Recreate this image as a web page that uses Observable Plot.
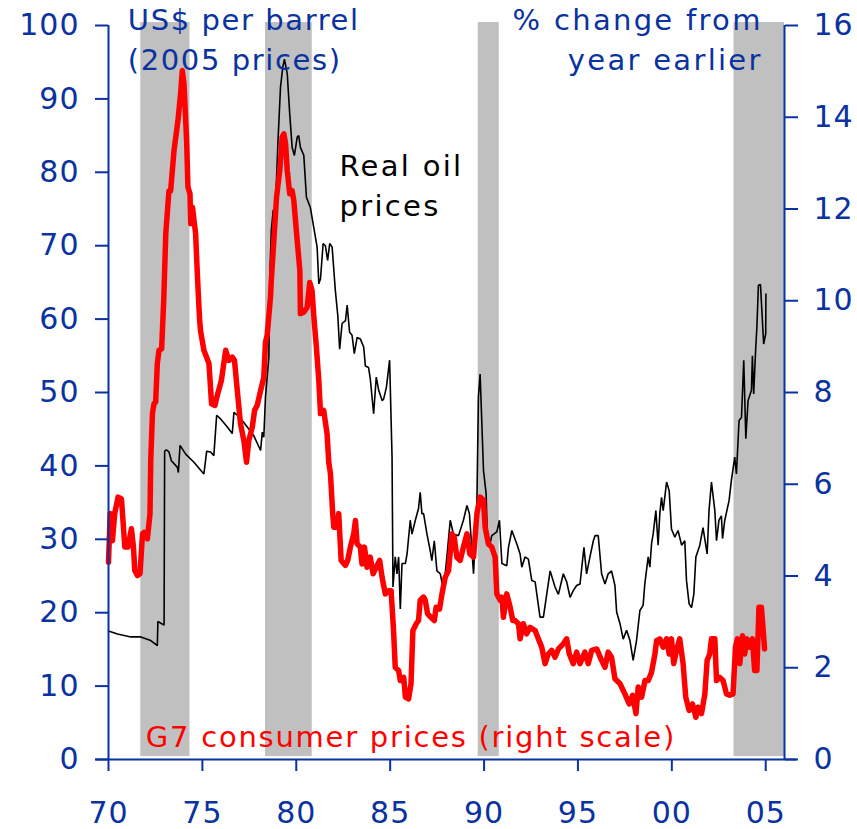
<!DOCTYPE html>
<html>
<head>
<meta charset="utf-8">
<script src="https://cdn.jsdelivr.net/npm/d3@7"></script>
<script src="https://cdn.jsdelivr.net/npm/@observablehq/plot@0.6"></script>
<style>
  html, body { margin: 0; padding: 0; background: #fff; }
  #chart svg { display: block; font-family: "DejaVu Sans", Verdana, sans-serif; }
  #chart svg text { letter-spacing: 1px; }
  #chart svg .note-a text { letter-spacing: 1.6px; }
  #chart svg .note-b text { letter-spacing: 2.3px; }
  #chart svg .note-c text { letter-spacing: 2.3px; }
  #chart svg .note-d text { letter-spacing: 1.75px; }
</style>
</head>
<body>
<div id="chart"></div>
<script>
// ---- Data ----
const oilYear = [
  1970.00,1970.48,1971.19,1971.72,1972.25,1972.51,1972.60,1972.63,1972.96,1972.99,
  1973.08,1973.22,1973.35,1973.67,1973.72,1973.81,1974.11,1974.55,1974.91,1975.08,
  1975.23,1975.44,1975.61,1975.76,1975.97,1976.33,1976.59,1976.68,1976.86,1977.12,
  1977.39,1977.74,1978.10,1978.19,1978.27,1978.36,1978.54,1978.59,1978.67,1978.77,
  1978.89,1979.02,1979.16,1979.28,1979.37,1979.52,1979.65,1979.78,1979.90,1980.05,
  1980.13,1980.22,1980.40,1980.54,1980.75,1980.93,1981.11,1981.20,1981.29,1981.43,
  1981.55,1981.67,1981.78,1981.91,1982.08,1982.21,1982.31,1982.44,1982.62,1982.71,
  1982.84,1982.97,1983.09,1983.24,1983.41,1983.59,1983.68,1983.85,1983.94,1984.12,
  1984.26,1984.39,1984.57,1984.65,1984.80,1984.97,1985.10,1985.15,1985.27,1985.36,
  1985.45,1985.54,1985.63,1985.81,1985.90,1986.07,1986.16,1986.34,1986.51,1986.60,
  1986.69,1986.78,1986.96,1987.13,1987.22,1987.35,1987.49,1987.67,1987.84,1988.02,
  1988.20,1988.37,1988.64,1988.90,1989.09,1989.22,1989.44,1989.62,1989.70,1989.79,
  1989.97,1990.11,1990.18,1990.32,1990.41,1990.68,1990.82,1990.95,1991.21,1991.30,
  1991.48,1991.74,1991.92,1992.01,1992.18,1992.36,1992.54,1992.72,1992.98,1993.16,
  1993.52,1993.78,1993.96,1994.22,1994.40,1994.58,1994.75,1994.93,1995.11,1995.32,
  1995.46,1995.64,1995.82,1995.91,1996.08,1996.26,1996.44,1996.61,1996.79,1996.97,
  1997.06,1997.24,1997.41,1997.59,1997.77,1997.94,1998.12,1998.30,1998.47,1998.56,
  1998.74,1998.83,1998.92,1999.01,1999.15,1999.27,1999.36,1999.45,1999.54,1999.72,
  1999.86,1999.98,2000.16,2000.33,2000.52,2000.69,2000.78,2000.92,2001.05,2001.17,
  2001.28,2001.49,2001.66,2001.88,2001.98,2002.11,2002.29,2002.38,2002.51,2002.64,
  2002.70,2002.82,2003.05,2003.17,2003.35,2003.44,2003.58,2003.71,2003.83,2003.94,
  2004.06,2004.24,2004.29,2004.36,2004.47,2004.53,2004.61,2004.72,2004.89,2005.00,
  2005.01
];
const oilPrice = [
  17.5,17.1,16.7,16.7,16.2,15.7,15.5,18.8,18.3,42.0,
  42.2,41.9,40.7,39.8,39.1,42.8,41.6,40.5,39.4,38.9,
  42.0,41.9,41.4,46.9,46.4,45.3,44.4,47.3,46.9,46.2,
  45.3,44.1,42.1,44.6,43.9,49.4,54.8,65.7,72.1,74.8,
  75.2,83.9,91.6,94.3,95.4,93.4,88.0,83.4,82.3,84.8,
  85.0,83.4,82.3,76.6,75.2,72.5,69.8,64.8,65.5,70.3,
  70.0,68.0,70.3,69.8,63.9,60.5,55.9,59.4,59.8,61.9,
  58.2,57.8,55.3,57.5,57.3,56.2,53.6,53.4,51.9,47.1,
  52.1,50.3,48.9,49.1,50.7,54.4,41.2,23.5,27.6,25.3,
  27.6,20.5,26.7,26.7,28.0,32.6,30.7,32.6,34.2,36.4,
  33.5,33.5,30.7,28.5,27.1,29.8,25.7,25.3,23.0,27.6,
  32.6,30.7,30.5,32.6,34.6,33.5,25.3,35.3,49.4,52.5,
  39.4,36.2,29.8,29.4,30.5,31.0,32.6,26.7,26.4,28.9,
  31.2,29.4,28.0,26.2,27.6,27.3,24.4,24.2,19.4,19.4,
  25.7,23.5,22.5,25.3,24.2,22.1,23.0,23.7,23.9,28.9,
  25.3,27.6,29.8,30.5,30.5,25.3,23.9,25.3,25.7,23.7,
  20.1,18.5,16.4,17.6,16.2,13.5,16.2,20.3,21.0,23.9,
  27.6,26.2,29.4,30.8,33.9,29.2,33.5,35.7,33.9,37.8,
  36.6,31.4,30.3,31.2,29.2,29.8,24.4,21.2,20.7,22.5,
  27.6,29.2,31.6,28.0,33.9,37.8,33.9,29.8,32.6,33.2,
  30.1,32.6,35.3,38.0,41.2,38.9,46.2,46.6,54.4,43.7,
  48.9,50.3,55.0,49.8,56.2,58.9,64.6,64.7,56.6,58.0,
  63.4
];

const cpiYear = [
  1970.00,1970.09,1970.21,1970.33,1970.51,1970.69,1970.87,1971.04,1971.22,1971.33,
  1971.40,1971.54,1971.68,1971.81,1971.89,1972.07,1972.21,1972.25,1972.34,1972.42,
  1972.51,1972.60,1972.69,1972.83,1972.94,1973.05,1973.22,1973.31,1973.49,1973.70,
  1973.84,1973.93,1974.02,1974.16,1974.23,1974.34,1974.38,1974.47,1974.64,1974.73,
  1974.80,1974.85,1974.90,1975.08,1975.35,1975.49,1975.67,1975.79,1976.01,1976.24,
  1976.41,1976.59,1976.71,1976.86,1977.03,1977.21,1977.35,1977.47,1977.66,1977.78,
  1977.92,1978.10,1978.27,1978.36,1978.45,1978.63,1978.67,1978.95,1979.12,1979.25,
  1979.34,1979.43,1979.52,1979.65,1979.78,1979.87,1980.05,1980.19,1980.22,1980.40,
  1980.58,1980.72,1980.84,1980.93,1981.07,1981.20,1981.29,1981.46,1981.64,1981.73,
  1981.82,1981.94,1982.00,1982.17,1982.26,1982.39,1982.62,1982.74,1982.88,1983.06,
  1983.15,1983.24,1983.41,1983.50,1983.63,1983.77,1983.94,1984.09,1984.26,1984.44,
  1984.57,1984.74,1984.92,1985.05,1985.18,1985.27,1985.45,1985.54,1985.72,1985.81,
  1985.98,1986.11,1986.21,1986.39,1986.51,1986.60,1986.78,1986.87,1986.99,1987.17,
  1987.35,1987.45,1987.63,1987.76,1987.93,1988.11,1988.29,1988.41,1988.55,1988.73,
  1988.90,1989.09,1989.24,1989.44,1989.62,1989.79,1989.97,1990.06,1990.23,1990.41,
  1990.59,1990.68,1990.86,1990.95,1991.03,1991.21,1991.39,1991.53,1991.65,1991.83,
  1991.92,1992.09,1992.27,1992.45,1992.72,1992.89,1993.07,1993.25,1993.42,1993.60,
  1993.78,1993.96,1994.22,1994.40,1994.54,1994.75,1994.93,1995.11,1995.37,1995.55,
  1995.73,1996.00,1996.26,1996.44,1996.61,1996.79,1996.97,1997.24,1997.50,1997.73,
  1997.91,1998.09,1998.21,1998.39,1998.57,1998.74,1998.92,1999.10,1999.19,1999.36,
  1999.54,1999.72,1999.86,1999.98,2000.10,2000.25,2000.42,2000.60,2000.74,2000.92,
  2001.10,2001.28,2001.40,2001.58,2001.76,2001.88,2002.02,2002.11,2002.29,2002.38,
  2002.55,2002.73,2002.91,2003.08,2003.26,2003.39,2003.49,2003.62,2003.76,2003.88,
  2004.00,2004.15,2004.29,2004.41,2004.53,2004.64,2004.77,2004.94
];
const cpiChange = [
  4.30,5.36,4.77,5.36,5.72,5.68,4.63,4.63,5.03,4.63,
  4.12,4.01,4.05,4.92,4.95,4.81,5.36,6.52,7.54,7.75,
  7.79,8.63,8.92,8.95,10.00,11.46,12.40,12.40,13.28,13.93,
  14.51,15.02,14.73,13.49,12.48,12.33,11.68,12.04,11.46,10.59,
  10.00,9.60,9.35,8.92,8.63,7.75,7.72,7.93,8.26,8.92,
  8.70,8.77,8.70,8.04,7.32,6.95,6.48,6.95,7.25,7.61,
  7.72,8.04,8.33,9.10,9.25,10.10,10.44,12.26,12.84,13.57,
  13.64,13.42,12.84,12.33,12.40,12.18,11.31,10.66,9.72,9.75,
  9.86,10.40,10.22,9.68,8.99,8.26,7.54,7.61,7.10,6.48,
  6.23,5.36,5.06,5.06,5.36,4.34,4.23,4.34,4.63,4.92,
  5.21,4.70,4.63,4.26,4.63,4.19,4.41,4.05,4.19,4.34,
  3.97,3.61,3.68,3.68,2.81,2.01,1.94,1.72,1.79,1.36,
  1.32,1.65,2.81,2.96,3.03,3.47,3.54,3.47,3.18,3.10,
  3.03,3.32,3.28,3.61,3.97,4.12,4.92,4.85,4.41,4.34,
  4.63,4.92,4.48,4.41,5.36,5.72,5.65,5.06,4.70,4.63,
  4.41,3.61,3.47,3.54,3.10,3.61,3.32,3.03,3.03,2.96,
  2.63,2.96,2.74,2.88,2.81,2.63,2.45,2.09,2.30,2.38,
  2.23,2.41,2.52,2.63,2.30,2.09,2.34,2.09,2.34,2.09,
  2.38,2.41,2.16,2.01,2.34,2.23,1.76,1.65,1.43,1.21,
  1.40,1.00,1.58,1.36,1.72,1.72,1.90,2.30,2.59,2.63,
  2.45,2.63,2.30,2.63,2.09,2.38,2.63,2.09,1.36,1.07,
  1.21,0.92,1.14,1.00,1.43,2.16,2.30,2.63,2.63,1.72,
  1.79,1.72,1.43,1.40,1.43,2.45,2.63,2.09,2.70,2.30,
  2.63,2.45,2.63,1.94,1.94,3.32,3.32,2.41
];

// shaded periods
const bandStart = [1971.72, 1978.36, 1989.69, 2003.31];
const bandEnd   = [1974.34, 1980.85, 1990.81, 2006.00];

// tick values
const xTicks = [1970, 1975, 1980, 1985, 1990, 1995, 2000, 2005];
const leftTicks = [0, 10, 20, 30, 40, 50, 60, 70, 80, 90, 100];
const rightTicks = [0, 2, 4, 6, 8, 10, 12, 14, 16];

// ---- Build tables ----
const oil = oilYear.map((t, i) => ({year: t, value: oilPrice[i]}));
const cpi = cpiYear.map((t, i) => ({year: t, value: cpiChange[i]}));
const bands = bandStart.map((s, i) => ({start: s, end: bandEnd[i]}));
const k = 100 / 16; // right scale -> left scale

const BLUE = "#0a32a0";
const FONT = "DejaVu Sans, Verdana, sans-serif";

const chart = Plot.plot({
  width: 857,
  height: 829,
  marginLeft: 108,
  marginRight: 73,
  marginTop: 25,
  marginBottom: 70,
  style: {fontFamily: FONT, background: "#fff", overflow: "visible"},
  x: {domain: [1970, 2006], axis: null},
  y: {domain: [0, 100], axis: null},
  marks: [
    Plot.rectY(bands, {x1: "start", x2: "end", y1: 0.4, y2: 100.4, fill: "#c0c0c0"}),
    Plot.line(oil, {x: "year", y: "value", stroke: "#000", strokeWidth: 1.6, strokeLinejoin: "miter", curve: "linear"}),
    Plot.line(cpi, {x: "year", y: d => d.value * k, stroke: "#ff0000", strokeWidth: 5.5, strokeLinejoin: "round", strokeLinecap: "round"}),
    // axis lines
    Plot.ruleX([1970], {y1: 0, y2: 100, stroke: BLUE, strokeWidth: 2}),
    Plot.ruleX([2006], {y1: 0, y2: 100, stroke: BLUE, strokeWidth: 2}),
    Plot.ruleY([0], {x1: 1969.33, x2: 2006.65, stroke: BLUE, strokeWidth: 2}),
    Plot.axisY({ticks: leftTicks, anchor: "left", tickSize: 13, tickPadding: 16, fontSize: 30, color: BLUE, strokeWidth: 2, label: null}),
    Plot.axisY({ticks: rightTicks.map(v => v * k), tickFormat: d => String(Math.round(d / k)), anchor: "right", tickSize: 13, tickPadding: 16, fontSize: 30, color: BLUE, strokeWidth: 2, label: null}),
    Plot.axisX({ticks: xTicks, tickFormat: d => String(d % 100).padStart(2, "0"), anchor: "bottom", tickSize: 12, tickPadding: 30, fontSize: 30, color: BLUE, strokeWidth: 2, label: null}),
    // annotations
    Plot.text(["US$ per barrel\n(2005 prices)"], {x: 1971.03, y: 103.2, text: d => d, textAnchor: "start", lineAnchor: "top", lineHeight: 1.38, fontSize: 29, fill: BLUE, className: "note-a"}),
    Plot.text(["% change from\nyear earlier"], {x: 2004.84, y: 103.2, text: d => d, textAnchor: "end", lineAnchor: "top", lineHeight: 1.38, fontSize: 29, fill: BLUE, className: "note-b"}),
    Plot.text(["Real oil\nprices"], {x: 1982.30, y: 83.3, text: d => d, textAnchor: "start", lineAnchor: "top", lineHeight: 1.38, fontSize: 29, fill: "#000", className: "note-c"}),
    Plot.text(["G7 consumer prices (right scale)"], {x: 1971.99, y: 4.5, text: d => d, textAnchor: "start", lineAnchor: "top", fontSize: 29, fill: "#ff0000", className: "note-d"})
  ]
});
document.getElementById("chart").appendChild(chart);
</script>
</body>
</html>
